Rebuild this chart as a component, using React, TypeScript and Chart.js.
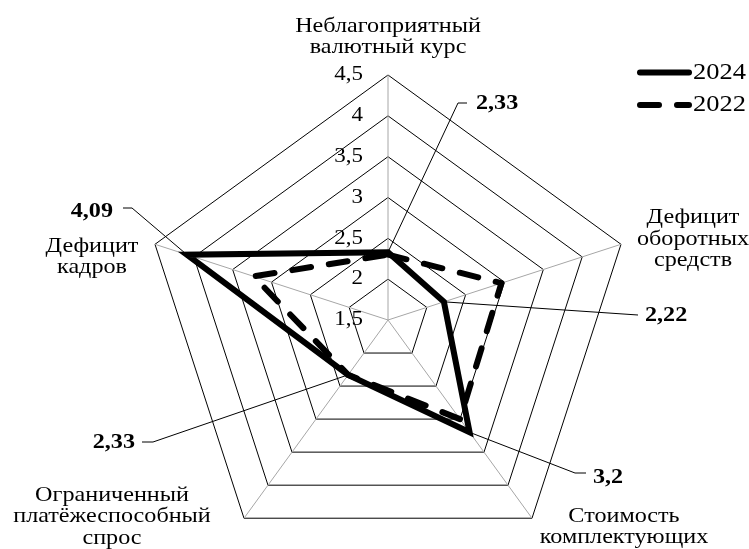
import { useEffect, useRef } from "react";
import { Chart, registerables } from "chart.js";

Chart.register(...registerables);

// ---------- data ----------
const categories: string[][] = [
  ["Неблагоприятный", "валютный курс"],
  ["Дефицит", "оборотных", "средств"],
  ["Стоимость", "комплектующих"],
  ["Ограниченный", "платёжеспособный", "спрос"],
  ["Дефицит", "кадров"],
];
const seriesLabels = ["2024", "2022"];
const values2024 = [2.33, 2.22, 3.2, 2.33, 4.09];
const values2022 = [2.3, 2.96, 3.0, 2.33, 3.23];
const tickValues = [1.5, 2, 2.5, 3, 3.5, 4, 4.5];
const tickLabels = ["1,5", "2", "2,5", "3", "3,5", "4", "4,5"];
const calloutLabels = ["2,33", "2,22", "3,2", "2,33", "4,09"];

// ---------- layout (positions / styles only) ----------
const CENTER_X = 388;
const CENTER_Y = 320;
const RADIUS = 245;
const FONT = '"Liberation Serif", "Times New Roman", serif';
const SX = 1.15; // horizontal text stretch
const LABEL_SIZE = 21;
const LINE_H = 21.5;
// point label: center x, baseline of first line
const pointLabelPos = [
  { x: 388, y: 31.5 },
  { x: 693, y: 223 },
  { x: 624, y: 521.5 },
  { x: 112, y: 500.5 },
  { x: 92, y: 251.5 },
];
// callouts: text anchor, alignment, and leader elbow points (text side first)
const calloutPos = [
  { tx: 476, ty: 104, align: "left", path: [[467, 103], [458, 103]] },
  { tx: 645, ty: 316, align: "left", path: [[638, 315]] },
  { tx: 593, ty: 478, align: "left", path: [[586, 473], [575, 473]] },
  { tx: 135, ty: 443, align: "right", path: [[142, 442], [153, 442]] },
  { tx: 113, ty: 212, align: "right", path: [[123, 208], [132, 208]] },
];

function drawText(
  ctx: CanvasRenderingContext2D,
  text: string,
  x: number,
  y: number,
  align: CanvasTextAlign,
  font: string,
  baseline: CanvasTextBaseline = "alphabetic"
) {
  ctx.save();
  ctx.translate(x, y);
  ctx.scale(SX, 1);
  ctx.font = font;
  ctx.textAlign = align;
  ctx.textBaseline = baseline;
  ctx.fillStyle = "#000";
  ctx.fillText(text, 0, 0);
  ctx.restore();
}

const overlayPlugin = {
  id: "overlay",
  afterDatasetsDraw(chart: any) {
    const ctx: CanvasRenderingContext2D = chart.ctx;
    const scale = chart.scales.r;
    // tick labels
    tickValues.forEach((v, i) => {
      const d = scale.getDistanceFromCenterForValue(v);
      drawText(
        ctx,
        tickLabels[i],
        scale.xCenter - 25,
        scale.yCenter - d,
        "right",
        `20px ${FONT}`,
        "middle"
      );
    });
    // point labels
    categories.forEach((lines, i) => {
      const p = pointLabelPos[i];
      lines.forEach((line, j) => {
        drawText(ctx, line, p.x, p.y + j * LINE_H, "center", `${LABEL_SIZE}px ${FONT}`);
      });
    });
    // callouts for 2024
    ctx.save();
    ctx.strokeStyle = "#000";
    ctx.lineWidth = 1;
    calloutPos.forEach((c, i) => {
      const pt = scale.getPointPositionForValue(i, values2024[i]);
      ctx.beginPath();
      c.path.forEach(([x, y], k) => (k === 0 ? ctx.moveTo(x, y) : ctx.lineTo(x, y)));
      ctx.lineTo(pt.x, pt.y);
      ctx.stroke();
      drawText(ctx, calloutLabels[i], c.tx, c.ty, c.align as CanvasTextAlign, `bold 21px ${FONT}`, "middle");
    });
    ctx.restore();
    // legend
    const legendY = [72.5, 105];
    seriesLabels.forEach((lab, i) => {
      const ds = chart.data.datasets[i];
      ctx.save();
      ctx.strokeStyle = "#000";
      ctx.lineWidth = ds.borderWidth;
      ctx.lineCap = "round";
      ctx.setLineDash(i === 0 ? [] : [19, 18]);
      ctx.beginPath();
      ctx.moveTo(640, legendY[i]);
      ctx.lineTo(689, legendY[i]);
      ctx.stroke();
      ctx.restore();
      drawText(ctx, lab, 693, legendY[i], "left", `23px ${FONT}`, "middle");
    });
  },
};

export default function App() {
  const ref = useRef<HTMLCanvasElement | null>(null);
  useEffect(() => {
    if (!ref.current) return;
    const chart = new Chart(ref.current, {
      type: "radar",
      data: {
        labels: categories.map((c) => c.join(" ")),
        datasets: [
          {
            label: seriesLabels[0],
            data: values2024,
            borderColor: "#000",
            borderWidth: 6,
            borderJoinStyle: "miter",
            fill: false,
            pointRadius: 0,
            tension: 0,
          },
          {
            label: seriesLabels[1],
            data: values2022,
            borderColor: "#000",
            borderWidth: 6,
            borderDash: [19, 18],
            borderCapStyle: "round",
            borderJoinStyle: "round",
            fill: false,
            pointRadius: 0,
            tension: 0,
          },
        ],
      },
      options: {
        animation: false,
        responsive: false,
        maintainAspectRatio: false,
        plugins: { legend: { display: false }, tooltip: { enabled: false } },
        scales: {
          r: {
            min: 1.5,
            max: 4.5,
            ticks: { display: false, stepSize: 0.5 },
            pointLabels: { display: false },
            grid: { color: "#000", lineWidth: 1 },
            angleLines: { color: "#a6a6a6", lineWidth: 1 },
            afterFit: (s: any) => {
              s.xCenter = CENTER_X;
              s.yCenter = CENTER_Y;
              s.drawingArea = RADIUS;
            },
          } as any,
        },
      },
      plugins: [overlayPlugin],
    });
    return () => chart.destroy();
  }, []);
  return (
    <div style={{ position: "fixed", left: 0, top: 0, width: 749, height: 549, background: "#fff" }}>
      <canvas ref={ref} width={749} height={549} style={{ display: "block" }} />
    </div>
  );
}
